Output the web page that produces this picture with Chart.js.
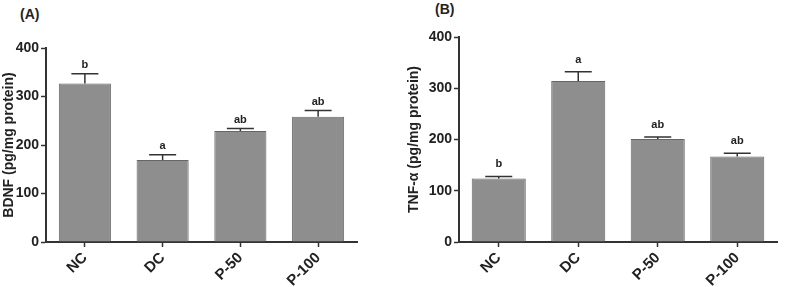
<!DOCTYPE html>
<html>
  <head>
    <title>BDNF and TNF-α levels</title>
    <style>
      body { margin: 0; background: #fff; }
      .wrap { position: relative; width: 787px; height: 287px; overflow: hidden; }
      canvas { position: absolute; top: 0; }
      .panel { position: absolute; font: bold 14px "Liberation Sans", Arial, sans-serif; color: #222; }
    </style>
  </head>
  <body>
    <script src="https://cdn.jsdelivr.net/npm/chart.js@4.4.0/dist/chart.umd.min.js"></script>

    <div class="wrap">
      <!-- Panel labels -->
      <div class="panel" style="left:20px; top:6px;">(A)</div>
      <div class="panel" style="left:435px; top:1px;">(B)</div>

      <!-- The canvases -->
      <canvas id="bdnfChart" width="390" height="287" style="left:0px"></canvas>
      <canvas id="tnfChart" width="384" height="287" style="left:403px"></canvas>
    </div>

    <script>
      // Data
      const categories = ["NC", "DC", "P-50", "P-100"];
      const yTicks = [0, 100, 200, 300, 400];

      const bdnfMean = [327, 169, 229, 258];
      const bdnfErr = [20, 11, 5, 13];
      const bdnfLetters = ["b", "a", "ab", "ab"];

      const tnfMean = [124, 314, 201, 167];
      const tnfErr = [4, 18, 4, 6];
      const tnfLetters = ["b", "a", "ab", "ab"];

      const fontFamily = '"Liberation Sans", Arial, sans-serif';
      const ink = "#222";

      // Upper error bars plus significance letters
      const errorBars = {
        id: "errorBars",
        afterDatasetsDraw(chart, args, opts) {
          const c = chart.ctx;
          const xs = chart.scales.x;
          const ys = chart.scales.y;
          c.save();
          c.strokeStyle = "#333";
          c.lineWidth = 1.5;
          c.fillStyle = ink;
          c.font = "bold 11px " + fontFamily;
          c.textAlign = "center";
          c.textBaseline = "alphabetic";
          opts.mean.forEach((m, i) => {
            const x = xs.getPixelForValue(i);
            const yBar = ys.getPixelForValue(m);
            const yTop = ys.getPixelForValue(m + opts.err[i]);
            c.beginPath();
            c.moveTo(x, yBar);
            c.lineTo(x, yTop);
            c.moveTo(x - 13.5, yTop);
            c.lineTo(x + 13.5, yTop);
            c.stroke();
            c.fillText(opts.letters[i], x, yTop - opts.gap);
          });
          c.restore();
        }
      };

      function makeChart(id, mean, err, letters, yTitle, opt) {
        const ctx = document.getElementById(id).getContext("2d");
        return new Chart(ctx, {
          type: "bar",
          data: {
            labels: categories,
            datasets: [{
              data: mean,
              backgroundColor: "#8e8e8e",
              borderColor: "#666",
              borderWidth: 1,
              categoryPercentage: 1,
              barPercentage: opt.barPct
            }]
          },
          options: {
            responsive: false,
            animation: false,
            layout: { padding: { top: opt.top, right: opt.right, left: 0, bottom: 0 } },
            plugins: {
              legend: { display: false },
              tooltip: { enabled: false },
              errorBars: { mean: mean, err: err, letters: letters, gap: opt.gap }
            },
            scales: {
              x: {
                afterFit(scale) { scale.height = 45; },
                grid: { display: true, drawOnChartArea: false, offset: false, tickLength: 5, color: "#333", tickWidth: 1.5 },
                border: { display: true, color: "#333", width: 2 },
                ticks: {
                  autoSkip: false, minRotation: 45, maxRotation: 45, padding: 2,
                  color: ink, font: { family: fontFamily, size: 15, weight: "bold" }
                }
              },
              y: {
                min: 0,
                max: 400,
                afterFit(scale) { scale.width = opt.yWidth; },
                afterBuildTicks(scale) { scale.ticks = yTicks.map(v => ({ value: v })); },
                grid: { drawOnChartArea: false, tickLength: 5, color: "#333", tickWidth: 1.5 },
                border: { display: true, color: "#333", width: 2 },
                ticks: { padding: 2, color: ink, font: { family: fontFamily, size: 14, weight: "bold" } },
                title: {
                  display: true, text: yTitle, color: ink, padding: { top: opt.titlePad, bottom: 2 },
                  font: { family: fontFamily, size: 14, weight: "bold" }
                }
              }
            }
          },
          plugins: [errorBars]
        });
      }

      makeChart("bdnfChart", bdnfMean, bdnfErr, bdnfLetters, "BDNF (pg/mg protein)",
        { top: 48, right: 33, yWidth: 46, barPct: 0.67, gap: 6, titlePad: 1 });
      makeChart("tnfChart", tnfMean, tnfErr, tnfLetters, "TNF-α (pg/mg protein)",
        { top: 37, right: 10, yWidth: 56, barPct: 0.68, gap: 9, titlePad: 3 });
    </script>
  </body>
</html>
